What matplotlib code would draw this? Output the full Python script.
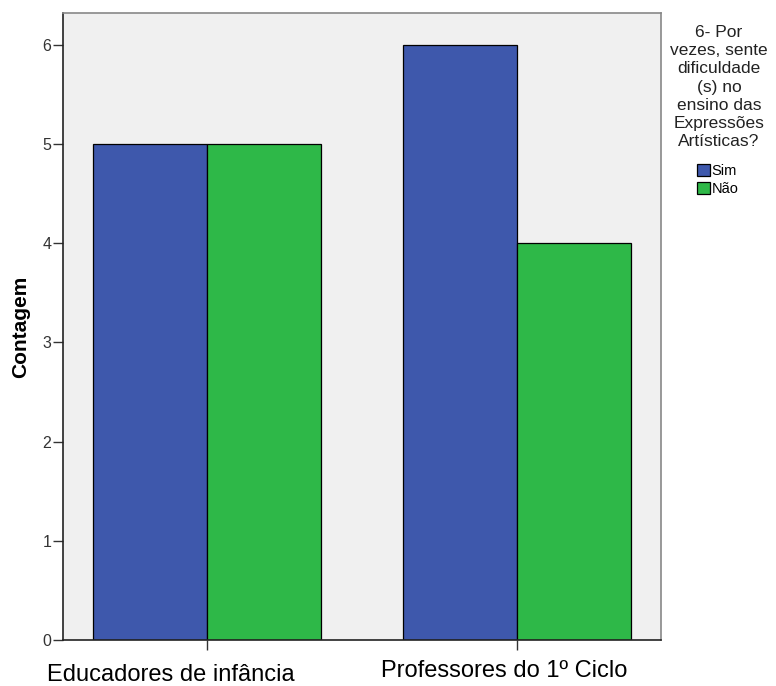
import numpy as np
import matplotlib
matplotlib.use("Agg")
import matplotlib.pyplot as plt
from matplotlib.patches import Patch
from matplotlib.transforms import ScaledTranslation

plt.rcParams["font.family"] = ["Liberation Sans", "DejaVu Sans"]

categories = ["Educadores de infância", "Professores do 1º Ciclo"]
series_names = ["Sim", "Não"]
sim_values = [5, 6]
nao_values = [5, 4]
y_ticks = [0, 1, 2, 3, 4, 5, 6]

legend_title = "6- Por\nvezes, sente\ndificuldade\n(s) no\nensino das\nExpressões\nArtísticas?"
colors = ["#3E58AC", "#2EB848"]

fig = plt.figure(figsize=(7.76, 6.86), dpi=100)
ax = fig.add_axes([63 / 776, 46 / 686, 598 / 776, 627 / 686])
ax.set_facecolor("#F0F0F0")

x = np.arange(len(categories))
width = 0.368
ax.bar(x - width / 2, sim_values, width, color=colors[0], edgecolor="black", linewidth=0.9, zorder=2)
ax.bar(x + width / 2, nao_values, width, color=colors[1], edgecolor="black", linewidth=0.9, zorder=2)

ax.set_xlim(-0.465, 1.465)
ax.set_ylim(0, 6.32)
ax.set_yticks(y_ticks)
ax.set_yticklabels([str(t) for t in y_ticks], fontsize=11.5, color="#333333")
ax.set_xticks(x)
ax.set_xticklabels(categories, fontsize=17, color="black")
ax.tick_params(axis="y", direction="out", length=7, width=1, pad=1.5, colors="#333333")
ax.tick_params(axis="x", direction="out", length=7, width=1, pad=10, colors="#333333")
for lbl in ax.get_xticklabels():
    lbl.set_color("black")

# SPSS puts category labels slightly off the ticks
shifts = [(-36, 0), (-13, 4)]
for lbl, (dx, dy) in zip(ax.get_xticklabels(), shifts):
    lbl.set_transform(lbl.get_transform() + ScaledTranslation(dx / 100, dy / 100, fig.dpi_scale_trans))

ax.set_ylabel("Contagem", fontsize=15, fontweight="bold", labelpad=9)

ax.spines["left"].set_color("#222222")
ax.spines["bottom"].set_color("#222222")
ax.spines["top"].set_color("#888888")
ax.spines["right"].set_color("#888888")
for sp in ax.spines.values():
    sp.set_linewidth(1.2)

fig.text(719 / 776, 1 - 25 / 686, legend_title, ha="center", va="top",
         fontsize=12.5, linespacing=1.27, color="#222222")

handles = [Patch(facecolor=c, edgecolor="black", linewidth=0.9) for c in colors]
fig.legend(handles, series_names, loc="upper left", bbox_to_anchor=(697 / 776, 1 - 164 / 686),
           frameon=False, fontsize=10.5, handlelength=0.9, handleheight=0.9,
           handletextpad=0.1, labelspacing=0.25, borderpad=0, borderaxespad=0)

fig.savefig("out.png", dpi=100)
